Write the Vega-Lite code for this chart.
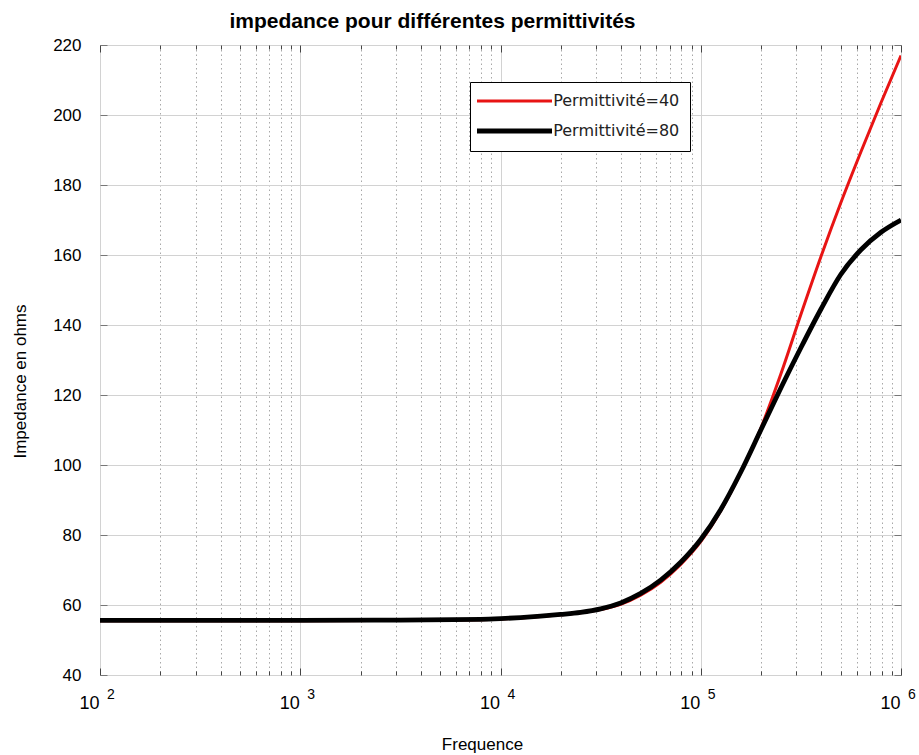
{
  "$schema": "https://vega.github.io/schema/vega-lite/v6.json",
  "width": 801,
  "height": 630,
  "autosize": "none",
  "padding": {"left": 100, "top": 45, "right": 18, "bottom": 80},
  "background": "white",
  "config": {
    "view": {"stroke": "black", "strokeWidth": 1},
    "font": "Liberation Sans"
  },
  "title": {
    "text": "impedance pour différentes permittivités",
    "font": "Liberation Sans",
    "fontSize": 21,
    "fontWeight": "bold",
    "color": "black",
    "anchor": "middle",
    "dx": -68,
    "offset": 4
  },
  "data": {
    "values": [
      {"f": 100, "z": 55.5, "serie": "Permittivité=40"},
      {"f": 1000, "z": 55.5, "serie": "Permittivité=40"},
      {"f": 3162, "z": 55.6, "serie": "Permittivité=40"},
      {"f": 7943, "z": 55.8, "serie": "Permittivité=40"},
      {"f": 10000, "z": 56.0, "serie": "Permittivité=40"},
      {"f": 12589, "z": 56.3, "serie": "Permittivité=40"},
      {"f": 15849, "z": 56.7, "serie": "Permittivité=40"},
      {"f": 19953, "z": 57.2, "serie": "Permittivité=40"},
      {"f": 25119, "z": 57.8, "serie": "Permittivité=40"},
      {"f": 31623, "z": 58.7, "serie": "Permittivité=40"},
      {"f": 39811, "z": 60.2, "serie": "Permittivité=40"},
      {"f": 50119, "z": 62.8, "serie": "Permittivité=40"},
      {"f": 63096, "z": 66.5, "serie": "Permittivité=40"},
      {"f": 79433, "z": 71.6, "serie": "Permittivité=40"},
      {"f": 100000, "z": 78.1, "serie": "Permittivité=40"},
      {"f": 125893, "z": 86.9, "serie": "Permittivité=40"},
      {"f": 158489, "z": 97.8, "serie": "Permittivité=40"},
      {"f": 199526, "z": 110.5, "serie": "Permittivité=40"},
      {"f": 251189, "z": 126.0, "serie": "Permittivité=40"},
      {"f": 316228, "z": 143.0, "serie": "Permittivité=40"},
      {"f": 398107, "z": 159.5, "serie": "Permittivité=40"},
      {"f": 501187, "z": 175.0, "serie": "Permittivité=40"},
      {"f": 630957, "z": 189.5, "serie": "Permittivité=40"},
      {"f": 794328, "z": 203.5, "serie": "Permittivité=40"},
      {"f": 1000000, "z": 217.0, "serie": "Permittivité=40"},
      {"f": 100, "z": 55.6, "serie": "Permittivité=80"},
      {"f": 1000, "z": 55.6, "serie": "Permittivité=80"},
      {"f": 3162, "z": 55.7, "serie": "Permittivité=80"},
      {"f": 7943, "z": 55.9, "serie": "Permittivité=80"},
      {"f": 10000, "z": 56.1, "serie": "Permittivité=80"},
      {"f": 12589, "z": 56.4, "serie": "Permittivité=80"},
      {"f": 15849, "z": 56.8, "serie": "Permittivité=80"},
      {"f": 19953, "z": 57.3, "serie": "Permittivité=80"},
      {"f": 25119, "z": 57.9, "serie": "Permittivité=80"},
      {"f": 31623, "z": 58.9, "serie": "Permittivité=80"},
      {"f": 39811, "z": 60.6, "serie": "Permittivité=80"},
      {"f": 50119, "z": 63.3, "serie": "Permittivité=80"},
      {"f": 63096, "z": 67.1, "serie": "Permittivité=80"},
      {"f": 79433, "z": 72.2, "serie": "Permittivité=80"},
      {"f": 100000, "z": 78.7, "serie": "Permittivité=80"},
      {"f": 125893, "z": 87.3, "serie": "Permittivité=80"},
      {"f": 158489, "z": 98.0, "serie": "Permittivité=80"},
      {"f": 199526, "z": 110.0, "serie": "Permittivité=80"},
      {"f": 251189, "z": 122.0, "serie": "Permittivité=80"},
      {"f": 316228, "z": 133.5, "serie": "Permittivité=80"},
      {"f": 398107, "z": 144.5, "serie": "Permittivité=80"},
      {"f": 501187, "z": 154.5, "serie": "Permittivité=80"},
      {"f": 630957, "z": 161.5, "serie": "Permittivité=80"},
      {"f": 794328, "z": 166.5, "serie": "Permittivité=80"},
      {"f": 1000000, "z": 170.0, "serie": "Permittivité=80"}
    ]
  },
  "layer": [
    {
      "mark": {"type": "line", "interpolate": "monotone", "clip": true},
      "encoding": {
        "x": {
          "field": "f",
          "type": "quantitative",
          "scale": {"type": "log", "domain": [100, 1000000], "nice": false},
          "axis": {
            "orient": "bottom",
            "title": "Frequence",
            "titleFont": "Liberation Sans",
            "titleFontSize": 17,
            "titleFontWeight": "normal",
            "titleColor": "black",
            "titleX": 382,
            "titleY": 74,
            "titleBaseline": "alphabetic",
            "titleAlign": "center",
            "values": [100,200,300,400,500,600,700,800,900,1000,2000,3000,4000,5000,6000,7000,8000,9000,10000,20000,30000,40000,50000,60000,70000,80000,90000,100000,200000,300000,400000,500000,600000,700000,800000,900000,1000000],
            "labelExpr": "abs(log(datum.value)/LN10 - round(log(datum.value)/LN10)) < 0.001 ? '10' : ''",
            "labelFont": "Liberation Sans",
            "labelFontSize": 18,
            "labelColor": "black",
            "labelOverlap": false,
            "labelFlush": false,
            "labelPadding": 26,
            "labelOffset": -11,
            "domain": false,
            "tickColor": "#444",
            "tickSize": {"condition": {"test": "abs(log(datum.value)/LN10 - round(log(datum.value)/LN10)) < 0.001", "value": -7}, "value": -4},
            "grid": true,
            "gridColor": {"condition": {"test": "abs(log(datum.value)/LN10 - round(log(datum.value)/LN10)) < 0.001", "value": "#d2d2d2"}, "value": "#a8a8a8"},
            "gridDash": {"condition": {"test": "abs(log(datum.value)/LN10 - round(log(datum.value)/LN10)) < 0.001", "value": []}, "value": [1.5, 3]},
            "gridWidth": 1
          }
        },
        "y": {
          "field": "z",
          "type": "quantitative",
          "scale": {"domain": [40, 220], "nice": false, "zero": false},
          "axis": {
            "orient": "left",
            "title": "Impedance en ohms",
            "titleFont": "Liberation Sans",
            "titleFontSize": 17,
            "titleFontWeight": "normal",
            "titleColor": "black",
            "titleAngle": -90,
            "titleX": -80,
            "titleY": 336,
            "titleAlign": "center",
            "titleBaseline": "middle",
            "values": [40,60,80,100,120,140,160,180,200,220],
            "labelFont": "Liberation Sans",
            "labelFontSize": 17,
            "labelColor": "black",
            "labelPadding": 26,
            "domain": false,
            "tickColor": "#777",
            "tickSize": -7,
            "grid": true,
            "gridColor": "#d2d2d2",
            "gridWidth": 1
          }
        },
        "color": {
          "field": "serie",
          "type": "nominal",
          "scale": {"domain": ["Permittivité=40", "Permittivité=80"], "range": ["#e81414", "#000000"]},
          "legend": {
            "title": null,
            "orient": "none",
            "legendX": 370,
            "legendY": 37,
            "strokeColor": "black",
            "fillColor": "white",
            "padding": 10,
            "symbolType": "M-5,0H5",
            "symbolSize": 225,
            "symbolOffset": 24.5,
            "labelFont": "DejaVu Sans",
            "labelFontSize": 16,
            "labelColor": "#222",
            "labelOffset": 28.7,
            "rowPadding": 12
          }
        },
        "strokeWidth": {
          "field": "serie",
          "type": "nominal",
          "scale": {"domain": ["Permittivité=40", "Permittivité=80"], "range": [3, 4.8]},
          "legend": null
        }
      }
    },
    {
      "mark": {"type": "point", "opacity": 0},
      "encoding": {
        "x": {
          "field": "f",
          "type": "quantitative",
          "scale": {"type": "log", "domain": [100, 1000000], "nice": false},
          "axis": {
            "orient": "bottom",
            "title": null,
            "values": [100, 1000, 10000, 100000, 1000000],
            "labelExpr": "['0','1','2','3','4','5','6'][round(log(datum.value)/LN10)]",
            "labelFont": "Liberation Sans",
            "labelFontSize": 14,
            "labelColor": "black",
            "labelOverlap": false,
            "labelFlush": false,
            "labelPadding": 12.5,
            "labelOffset": 10.5,
            "domain": false,
            "ticks": false,
            "grid": false
          }
        },
        "y": {
          "field": "z",
          "type": "quantitative",
          "scale": {"domain": [40, 220], "nice": false, "zero": false},
          "axis": {
            "orient": "right",
            "title": null,
            "values": [40,60,80,100,120,140,160,180,200,220],
            "labels": false,
            "domain": false,
            "tickColor": "#777",
            "tickSize": -7,
            "grid": false
          }
        }
      }
    },
    {
      "mark": {"type": "point", "opacity": 0},
      "encoding": {
        "x": {
          "field": "f",
          "type": "quantitative",
          "scale": {"type": "log", "domain": [100, 1000000], "nice": false},
          "axis": {
            "orient": "top",
            "title": null,
            "values": [100,200,300,400,500,600,700,800,900,1000,2000,3000,4000,5000,6000,7000,8000,9000,10000,20000,30000,40000,50000,60000,70000,80000,90000,100000,200000,300000,400000,500000,600000,700000,800000,900000,1000000],
            "labels": false,
            "domain": false,
            "tickColor": "#444",
            "tickSize": {"condition": {"test": "abs(log(datum.value)/LN10 - round(log(datum.value)/LN10)) < 0.001", "value": -7}, "value": -4},
            "grid": false
          }
        },
        "y": {
          "field": "z",
          "type": "quantitative",
          "scale": {"domain": [40, 220], "nice": false, "zero": false},
          "axis": null
        }
      }
    }
  ],
  "resolve": {"axis": {"x": "independent", "y": "independent"}}
}
